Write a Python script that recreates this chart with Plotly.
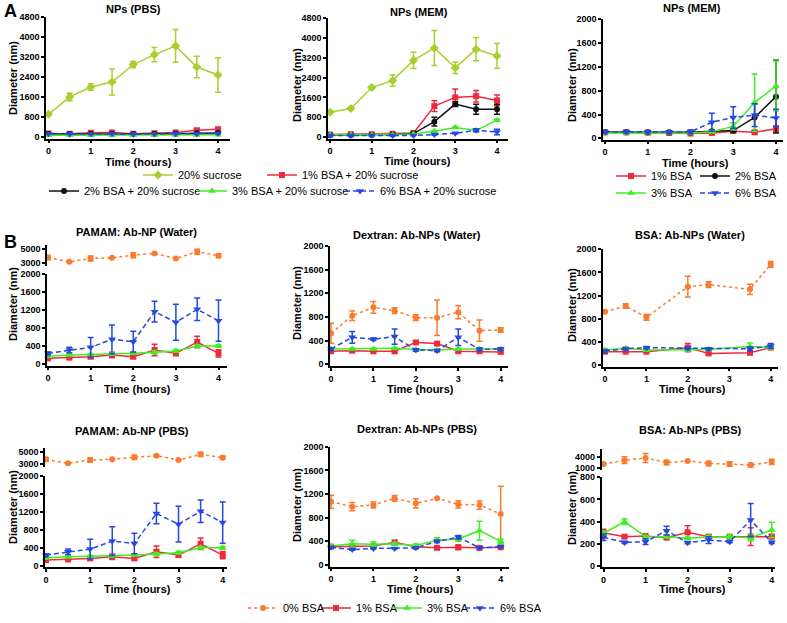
import plotly.graph_objects as go

# ---------------- DATA ----------------
time_h = [0, 0.5, 1, 1.5, 2, 2.5, 3, 3.5, 4]
time_bsa_water = [0, 0.5, 1, 2, 2.5, 3.5, 4]

# Panel A1: NPs (PBS)
a1_sucrose = [900, 1600, 2000, 2200, 2900, 3300, 3650, 2800, 2480]
a1_sucrose_err = [0, 150, 130, 520, 120, 290, 660, 430, 690]
a1_bsa1 = [130, 120, 160, 170, 120, 140, 170, 260, 300]
a1_bsa1_err = [30, 20, 30, 40, 20, 30, 40, 50, 60]
a1_bsa2 = [110, 100, 110, 110, 100, 110, 120, 140, 150]
a1_bsa2_err = [0, 0, 0, 0, 0, 0, 0, 0, 0]
a1_bsa3 = [60, 60, 60, 60, 60, 60, 70, 70, 80]
a1_bsa3_err = [0, 0, 0, 0, 0, 0, 0, 0, 0]
a1_bsa6 = [120, 110, 110, 120, 100, 110, 120, 120, 130]
a1_bsa6_err = [0, 0, 0, 0, 0, 0, 0, 0, 0]

# Panel A2: NPs (MEM), with sucrose
a2_sucrose = [1000, 1150, 2000, 2280, 3100, 3600, 2800, 3550, 3280]
a2_sucrose_err = [60, 40, 50, 230, 330, 710, 230, 470, 500]
a2_bsa1 = [100, 110, 110, 130, 160, 1250, 1600, 1650, 1480]
a2_bsa1_err = [20, 20, 20, 20, 40, 220, 340, 230, 220]
a2_bsa2 = [80, 80, 90, 100, 140, 620, 1330, 1120, 1120]
a2_bsa2_err = [0, 0, 0, 0, 30, 180, 100, 200, 200]
a2_bsa3 = [90, 90, 90, 90, 120, 230, 380, 260, 680]
a2_bsa3_err = [0, 0, 0, 0, 0, 30, 30, 30, 40]
a2_bsa6 = [60, 60, 60, 60, 60, 100, 150, 270, 200]
a2_bsa6_err = [0, 0, 0, 0, 0, 20, 20, 60, 110]

# Panel A3: NPs (MEM), BSA only
a3_bsa1 = [100, 100, 95, 90, 80, 90, 120, 100, 160]
a3_bsa1_err = [10, 10, 10, 10, 10, 20, 20, 20, 50]
a3_bsa2 = [100, 100, 100, 100, 100, 120, 130, 350, 700]
a3_bsa2_err = [0, 0, 0, 0, 0, 20, 20, 230, 610]
a3_bsa3 = [90, 90, 90, 90, 90, 110, 200, 600, 880]
a3_bsa3_err = [0, 0, 0, 0, 0, 20, 60, 480, 420]
a3_bsa6 = [110, 110, 100, 100, 110, 270, 350, 390, 340]
a3_bsa6_err = [20, 20, 20, 20, 30, 150, 180, 190, 150]

# Panel B1: PAMAM Ab-NP (Water)
b1_bsa0 = [3800, 3200, 3670, 3760, 4140, 4380, 3670, 4620, 4050]
b1_bsa0_err = [300, 0, 350, 0, 350, 0, 0, 350, 250]
b1_bsa1 = [126, 141, 163, 200, 163, 311, 237, 489, 237]
b1_bsa1_err = [40, 30, 40, 60, 40, 130, 50, 130, 80]
b1_bsa3 = [170, 200, 210, 220, 240, 260, 290, 400, 400]
b1_bsa3_err = [20, 20, 20, 20, 20, 30, 30, 30, 30]
b1_bsa6 = [237, 311, 370, 548, 496, 1163, 926, 1215, 963]
b1_bsa6_err = [30, 60, 220, 320, 230, 230, 400, 250, 460]

# Panel B2: Dextran Ab-NPs (Water)
b2_bsa0 = [524, 822, 963, 907, 789, 789, 879, 569, 580]
b2_bsa0_err = [170, 80, 100, 50, 50, 300, 110, 180, 40]
b2_bsa1 = [220, 230, 220, 220, 370, 350, 220, 220, 210]
b2_bsa1_err = [20, 20, 20, 20, 20, 20, 20, 20, 20]
b2_bsa3 = [260, 260, 260, 270, 250, 240, 260, 260, 260]
b2_bsa3_err = [10, 10, 10, 10, 10, 10, 10, 10, 10]
b2_bsa6 = [259, 456, 423, 468, 242, 231, 456, 254, 259]
b2_bsa6_err = [20, 100, 20, 130, 20, 20, 140, 20, 20]

# Panel B3: BSA Ab-NPs (Water)
b3_bsa0 = [920, 1020, 824, 1354, 1389, 1308, 1741]
b3_bsa0_err = [0, 40, 50, 180, 50, 90, 50]
b3_bsa1 = [230, 230, 230, 300, 200, 210, 300]
b3_bsa1_err = [20, 20, 20, 70, 20, 20, 20]
b3_bsa3 = [260, 290, 260, 260, 270, 320, 300]
b3_bsa3_err = [20, 20, 20, 20, 20, 60, 20]
b3_bsa6 = [240, 280, 300, 290, 280, 280, 330]
b3_bsa6_err = [20, 20, 20, 20, 20, 30, 40]

# Panel B4: PAMAM Ab-NP (PBS)
b4_bsa0 = [3757, 3108, 3650, 3757, 4080, 4350, 3650, 4567, 4027]
b4_bsa0_err = [300, 0, 350, 0, 350, 0, 0, 350, 250]
b4_bsa1 = [126, 141, 163, 200, 163, 311, 237, 489, 237]
b4_bsa1_err = [40, 30, 40, 60, 40, 130, 50, 130, 80]
b4_bsa3 = [170, 200, 210, 220, 240, 260, 290, 400, 400]
b4_bsa3_err = [20, 20, 20, 20, 20, 30, 30, 30, 30]
b4_bsa6 = [237, 311, 370, 548, 496, 1163, 926, 1215, 963]
b4_bsa6_err = [30, 60, 220, 320, 230, 230, 400, 250, 460]

# Panel B5: Dextran Ab-NPs (PBS)
b5_bsa0 = [1070, 986, 1014, 1127, 1042, 1127, 1025, 1014, 862]
b5_bsa0_err = [110, 70, 50, 50, 80, 0, 60, 70, 470]
b5_bsa1 = [310, 310, 320, 383, 310, 290, 300, 290, 300]
b5_bsa1_err = [20, 20, 20, 30, 20, 20, 40, 20, 20]
b5_bsa3 = [320, 360, 350, 360, 330, 420, 440, 580, 400]
b5_bsa3_err = [20, 60, 40, 20, 20, 40, 40, 160, 40]
b5_bsa6 = [300, 260, 280, 280, 290, 400, 470, 290, 310]
b5_bsa6_err = [10, 10, 10, 10, 10, 20, 30, 10, 10]

# Panel B6: BSA Ab-NPs (PBS)
b6_bsa0 = [2114, 3143, 3743, 2543, 2971, 2286, 2114, 1857, 2714]
b6_bsa0_err = [0, 900, 1200, 600, 0, 600, 600, 500, 700]
b6_bsa1 = [299, 263, 269, 254, 302, 263, 263, 263, 263]
b6_bsa1_err = [30, 10, 10, 10, 60, 10, 10, 80, 20]
b6_bsa3 = [293, 398, 263, 263, 248, 260, 263, 254, 323]
b6_bsa3_err = [20, 25, 10, 10, 10, 10, 20, 30, 70]
b6_bsa6 = [257, 211, 217, 317, 208, 232, 217, 413, 211]
b6_bsa6_err = [30, 10, 25, 40, 10, 30, 10, 150, 10]

x_ticks = [0, 1, 2, 3, 4]
y_ticks_4800 = [0, 800, 1600, 2400, 3200, 4000, 4800]
y_ticks_2000 = [0, 400, 800, 1200, 1600, 2000]
y_ticks_800 = [0, 200, 400, 600, 800]
y_ticks_pamam_top = [3000, 5000]
y_ticks_bsa_top = [1000, 4000]

labels_a = ["20% sucrose", "1% BSA + 20% sucrose", "2% BSA + 20% sucrose",
            "3% BSA + 20% sucrose", "6% BSA + 20% sucrose"]
labels_a3 = ["1% BSA", "2% BSA", "3% BSA", "6% BSA"]
labels_b = ["0% BSA", "1% BSA", "3% BSA", "6% BSA"]

# ---------------- STYLE ----------------
W, H = 787, 623
FONT = "Liberation Sans, Arial, sans-serif"
C_SUC = "#a8d02c"
C_RED = "#f02a3e"
C_BLK = "#111111"
C_GRN = "#3fee22"
C_BLU = "#2448e0"
C_ORG = "#fb7a2c"

STY = {
    "suc": dict(color=C_SUC, symbol="diamond", dash="solid", size=7),
    "b1": dict(color=C_RED, symbol="square", dash="solid", size=6),
    "b2": dict(color=C_BLK, symbol="circle", dash="solid", size=6),
    "b3": dict(color=C_GRN, symbol="triangle-up", dash="solid", size=7),
    "b6": dict(color=C_BLU, symbol="triangle-down", dash="5px,3px", size=7),
    "b0": dict(color=C_ORG, symbol="circle", dash="3px,3px", size=6),
}

fig = go.Figure()
layout = {}
count = [0]


def aid(k, axis):
    return axis if k == 1 else f"{axis}{k}"


def new_axes(L, R, x0p, x4p, T, B, pa, va, pb, vb, yticks, xvisible=True):
    count[0] += 1
    k = count[0]
    sx = (x4p - x0p) / 4.0
    xr = [(L - x0p) / sx, (R - x0p) / sx]

    def val(p):
        return va + (pa - p) * (vb - va) / (pa - pb)

    yr = [val(B), val(T)]
    axline = dict(showline=True, linecolor="black", linewidth=1.5, ticks="outside",
                  ticklen=3, tickwidth=1.5, tickcolor="black", showgrid=False,
                  zeroline=False, fixedrange=True, automargin=False,
                  tickfont=dict(family=FONT, size=9, color="black", weight=700))
    xa = dict(domain=[L / W, R / W], range=xr, anchor=aid(k, "y"), tickvals=x_ticks, **axline)
    if not xvisible:
        xa = dict(domain=[L / W, R / W], range=xr, anchor=aid(k, "y"), visible=False,
                  fixedrange=True, automargin=False)
    ya = dict(domain=[1 - B / H, 1 - T / H], range=yr, anchor=aid(k, "x"), tickvals=yticks, **axline)
    layout["xaxis" if k == 1 else f"xaxis{k}"] = xa
    layout["yaxis" if k == 1 else f"yaxis{k}"] = ya
    return k


def add(k, x, y, err, key, legend=None, name=None):
    s = STY[key]
    fig.add_trace(go.Scatter(
        x=x, y=y, xaxis=aid(k, "x"), yaxis=aid(k, "y"), mode="lines+markers",
        line=dict(color=s["color"], width=1.5, dash=s["dash"]),
        marker=dict(symbol=s["symbol"], size=s["size"], color=s["color"]),
        error_y=dict(type="data", array=err, color=s["color"], thickness=1.5, width=3),
        cliponaxis=False, name=name if name else key, hoverinfo="skip",
        showlegend=legend is not None, legend=legend if legend else "legend",
    ))


# ---- Panel A ----
k = new_axes(46, 230, 48.5, 218, 17, 138.5, 136.7, 0, 17.3, 4800, y_ticks_4800)
add(k, time_h, a1_sucrose, a1_sucrose_err, "suc", "legend", labels_a[0])
add(k, time_h, a1_bsa1, a1_bsa1_err, "b1", "legend2", labels_a[1])
add(k, time_h, a1_bsa2, a1_bsa2_err, "b2", "legend3", labels_a[2])
add(k, time_h, a1_bsa3, a1_bsa3_err, "b3", "legend4", labels_a[3])
add(k, time_h, a1_bsa6, a1_bsa6_err, "b6", "legend5", labels_a[4])

k = new_axes(328, 508, 330, 497, 18, 138.5, 137, 0, 18.3, 4800, y_ticks_4800)
add(k, time_h, a2_sucrose, a2_sucrose_err, "suc")
add(k, time_h, a2_bsa1, a2_bsa1_err, "b1")
add(k, time_h, a2_bsa2, a2_bsa2_err, "b2")
add(k, time_h, a2_bsa3, a2_bsa3_err, "b3")
add(k, time_h, a2_bsa6, a2_bsa6_err, "b6")

k = new_axes(603, 783, 605, 776, 19, 139.5, 138.3, 0, 19.3, 2000, y_ticks_2000)
add(k, time_h, a3_bsa1, a3_bsa1_err, "b1", "legend6", labels_a3[0])
add(k, time_h, a3_bsa2, a3_bsa2_err, "b2", "legend7", labels_a3[1])
add(k, time_h, a3_bsa3, a3_bsa3_err, "b3", "legend8", labels_a3[2])
add(k, time_h, a3_bsa6, a3_bsa6_err, "b6", "legend9", labels_a3[3])

# ---- Panel B, row 1 ----
k = new_axes(47, 227, 48, 218.5, 274, 365.5, 364, 0, 274, 2000, y_ticks_2000)
add(k, time_h, b1_bsa1, b1_bsa1_err, "b1", "legend11", labels_b[1])
add(k, time_h, b1_bsa3, b1_bsa3_err, "b3", "legend12", labels_b[2])
add(k, time_h, b1_bsa6, b1_bsa6_err, "b6", "legend13", labels_b[3])
k = new_axes(47, 227, 48, 218.5, 245, 266, 263.3, 3000, 249, 5000, y_ticks_pamam_top, xvisible=False)
add(k, time_h, b1_bsa0, b1_bsa0_err, "b0", "legend10", labels_b[0])

k = new_axes(330, 508, 331, 500.7, 246, 366, 364.3, 0, 246, 2000, y_ticks_2000)
add(k, time_h, b2_bsa0, b2_bsa0_err, "b0")
add(k, time_h, b2_bsa1, b2_bsa1_err, "b1")
add(k, time_h, b2_bsa3, b2_bsa3_err, "b3")
add(k, time_h, b2_bsa6, b2_bsa6_err, "b6")

k = new_axes(603, 778, 605, 770.7, 249, 366.5, 365, 0, 249.3, 2000, y_ticks_2000)
add(k, time_bsa_water, b3_bsa0, b3_bsa0_err, "b0")
add(k, time_bsa_water, b3_bsa1, b3_bsa1_err, "b1")
add(k, time_bsa_water, b3_bsa3, b3_bsa3_err, "b3")
add(k, time_bsa_water, b3_bsa6, b3_bsa6_err, "b6")

# ---- Panel B, row 2 ----
k = new_axes(45, 227, 46, 222.7, 476, 567, 565.7, 0, 476, 2000, y_ticks_2000)
add(k, time_h, b4_bsa1, b4_bsa1_err, "b1")
add(k, time_h, b4_bsa3, b4_bsa3_err, "b3")
add(k, time_h, b4_bsa6, b4_bsa6_err, "b6")
k = new_axes(45, 227, 46, 222.7, 448, 467, 464, 3000, 451.7, 5000, y_ticks_pamam_top, xvisible=False)
add(k, time_h, b4_bsa0, b4_bsa0_err, "b0")

k = new_axes(330, 509, 331, 500.7, 446.7, 566.5, 565, 0, 446.7, 2000, y_ticks_2000)
add(k, time_h, b5_bsa0, b5_bsa0_err, "b0")
add(k, time_h, b5_bsa1, b5_bsa1_err, "b1")
add(k, time_h, b5_bsa3, b5_bsa3_err, "b3")
add(k, time_h, b5_bsa6, b5_bsa6_err, "b6")

k = new_axes(601.5, 775, 603.5, 771.7, 477, 567, 565.7, 0, 477.3, 800, y_ticks_800)
add(k, time_h, b6_bsa1, b6_bsa1_err, "b1")
add(k, time_h, b6_bsa3, b6_bsa3_err, "b3")
add(k, time_h, b6_bsa6, b6_bsa6_err, "b6")
k = new_axes(601.5, 775, 603.5, 771.7, 449, 470, 468.3, 1000, 457, 4000, y_ticks_bsa_top, xvisible=False)
add(k, time_h, b6_bsa0, b6_bsa0_err, "b0")

# ---------------- TEXT ----------------
ann = []


def text(s, xp, yp, size=11, bold=True, angle=0):
    ann.append(dict(text=f"<b>{s}</b>" if bold else s, x=xp / W, y=1 - yp / H,
                    xref="paper", yref="paper", showarrow=False, xanchor="center",
                    yanchor="middle", textangle=angle,
                    font=dict(family=FONT, size=size, color="black")))


text("A", 10, 11, size=18)
text("B", 10, 242, size=18)
titles = [("NPs (PBS)", 133, 9), ("NPs (MEM)", 419, 12), ("NPs (MEM)", 692, 8),
          ("PAMAM: Ab-NP (Water)", 136, 232), ("Dextran: Ab-NPs (Water)", 417, 235),
          ("BSA: Ab-NPs (Water)", 690, 235), ("PAMAM: Ab-NP (PBS)", 132, 431),
          ("Dextran: Ab-NPs (PBS)", 417, 429), ("BSA: Ab-NPs (PBS)", 690, 430)]
for t, xp, yp in titles:
    text(t, xp, yp)
for xp, yp in [(13, 78), (297, 85), (572, 85), (13, 304), (297, 303), (572, 305),
               (13, 507), (297, 505), (572, 508)]:
    text("Diameter (nm)", xp, yp, angle=-90)
for xp, yp in [(138, 162), (418, 161), (695, 163), (137, 389), (420, 389), (692, 389),
               (137, 589), (420, 589), (692, 589)]:
    text("Time (hours)", xp, yp)

layout["annotations"] = ann

# legends: one entry each, positioned by marker location
leg_pos = {"legend": (158, 175), "legend2": (282, 175), "legend3": (64, 191),
           "legend4": (212, 191), "legend5": (360, 191), "legend6": (631, 176),
           "legend7": (715, 176), "legend8": (631, 193), "legend9": (715, 193),
           "legend10": (263, 608), "legend11": (336, 608), "legend12": (407, 608),
           "legend13": (480, 608)}
for name, (mx, my) in leg_pos.items():
    layout[name] = dict(x=(mx - 20) / W, y=1 - my / H, xanchor="left", yanchor="middle",
                        orientation="h", bgcolor="rgba(0,0,0,0)", borderwidth=0,
                        itemwidth=30, font=dict(family=FONT, size=11, color="black"),
                        itemclick=False, itemdoubleclick=False)

fig.update_layout(template="none", width=W, height=H,
                  margin=dict(l=0, r=0, t=0, b=0, autoexpand=False),
                  paper_bgcolor="white", plot_bgcolor="white", hovermode=False,
                  font=dict(family=FONT, color="black"), **layout)
fig.write_html("out.html", config={"displayModeBar": False},
               post_script="document.body.style.margin='0';document.body.style.overflow='hidden';")
